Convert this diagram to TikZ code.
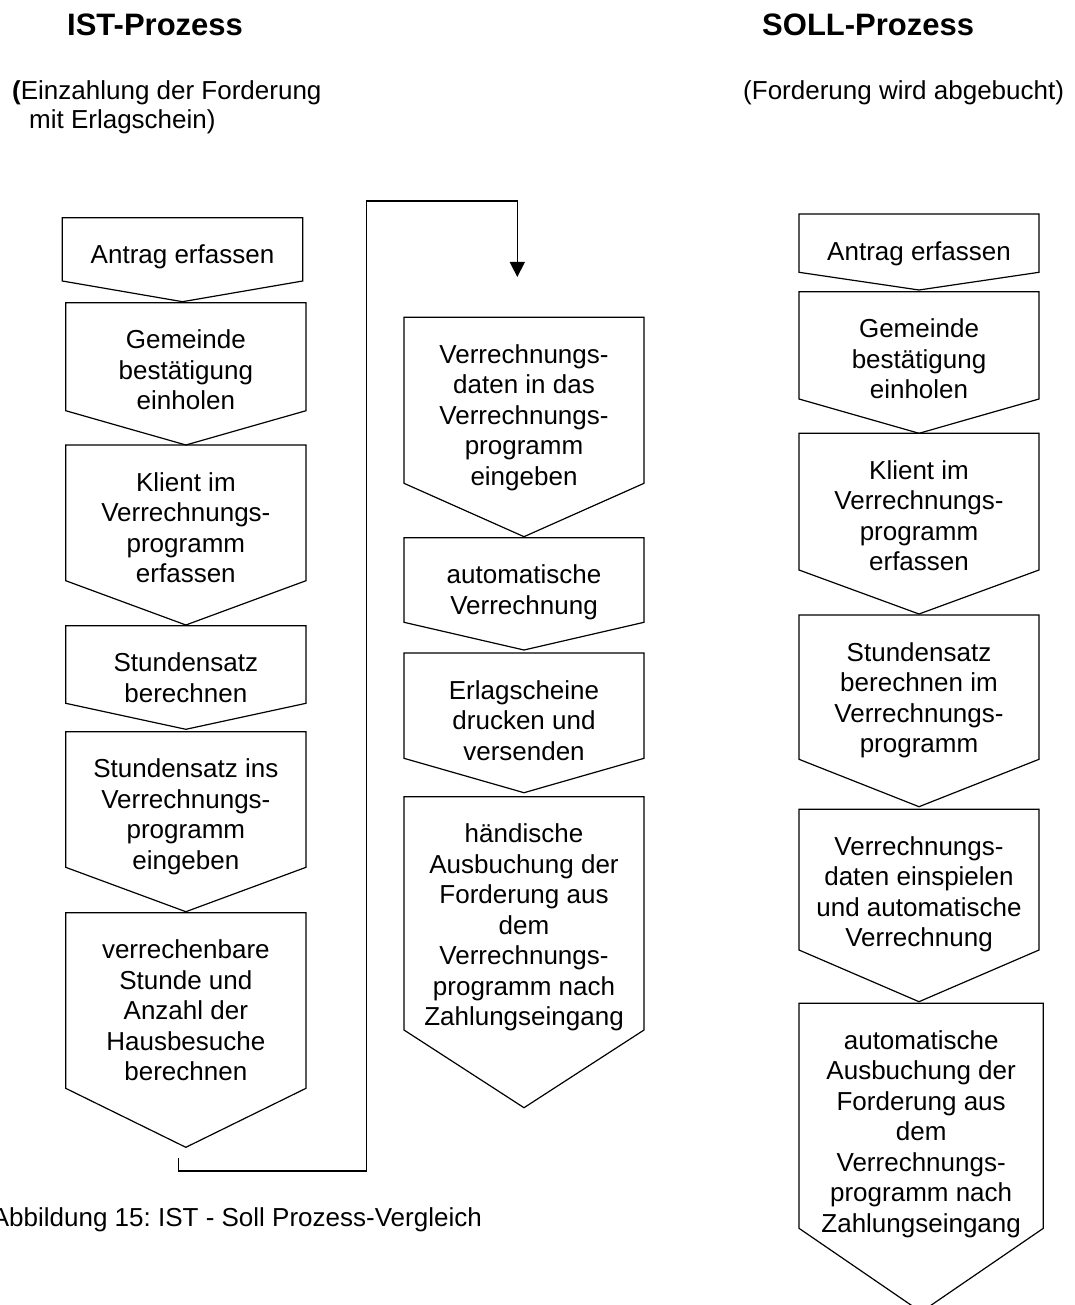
\documentclass[tikz,border=0pt]{standalone}
\usepackage{fontspec}
\setmainfont{Liberation Sans}
\usetikzlibrary{arrows.meta}
\frenchspacing

\tikzset{
  kante/.style={draw=black,line width=1.2pt,line join=miter},
  schritttext/.style={font=\fontsize{26}{30.5}\selectfont,align=center,inner sep=0pt,anchor=north},
  titel/.style={font=\fontsize{31}{36}\selectfont\bfseries,anchor=base west,inner sep=0pt},
  untertitel/.style={font=\fontsize{26}{30.5}\selectfont,anchor=base west,inner sep=0pt},
  rueckpfeil/.style={line width=1.2pt,-{Triangle[length=15pt,width=15pt]}}
}

\newcommand{\prozessschritt}[7]{%
  \draw[kante] (#2,#4) -- (#3,#4) -- (#3,#5) -- ({(#2+#3)/2},#6) -- (#2,#5) -- cycle;
  \node[schritttext] (#1) at ({(#2+#3)/2},#4+27) {#7};
}

\begin{document}
\begin{tikzpicture}[x=1pt,y=-1pt]
        \useasboundingbox (0,0) rectangle (1074,1305);

        \node[titel] (istTitel) at (67,36) {IST-Prozess};
        \node[untertitel] (istSub1) at (12,100) {\textbf{(}Einzahlung der Forderung};
        \node[untertitel] (istSub2) at (29,129) {mit Erlagschein)};
        \node[titel] (sollTitel) at (762,36) {SOLL-Prozess};
        \node[untertitel] (sollSub) at (743,100) {(Forderung wird abgebucht)};

        \prozessschritt{ist1}{62.3}{302.7}{217.7}{281}{301.7}{Antrag erfassen}
        \prozessschritt{ist2}{65.7}{306}{302.7}{410.7}{445}{Gemeinde\\bestätigung\\einholen}
        \prozessschritt{ist3}{65.7}{306}{445}{580.7}{625}{Klient im\\Verrechnungs-\\programm\\erfassen}
        \prozessschritt{ist4}{65.7}{306}{625.7}{703.3}{729.3}{Stundensatz\\berechnen}
        \prozessschritt{ist5}{65.7}{306}{731.7}{867.3}{911.7}{Stundensatz ins\\Verrechnungs-\\programm\\eingeben}
        \prozessschritt{ist6}{65.7}{306}{912.7}{1088.3}{1147.3}{verrechenbare\\Stunde und\\Anzahl der\\Hausbesuche\\berechnen}

        \prozessschritt{ist7}{404}{644}{317.3}{483.3}{536.7}{Verrechnungs-\\daten in das\\Verrechnungs-\\programm\\eingeben}
        \prozessschritt{ist8}{404}{644}{537.7}{622.3}{650}{automatische\\Verrechnung}
        \prozessschritt{ist9}{404}{644}{653}{758.3}{792.7}{Erlagscheine\\drucken und\\versenden}
        \prozessschritt{ist10}{404}{644}{796.7}{1030}{1107.7}{händische\\Ausbuchung der\\Forderung aus\\dem\\Verrechnungs-\\programm nach\\Zahlungseingang}

        \coordinate (rueckStart) at (178.3,1158.3);
        \coordinate (knickA) at (366.7,1171);
        \coordinate (knickB) at (517.3,201);
        \coordinate (rueckEnde) at (517.3,277);
        \draw[rueckpfeil] (rueckStart) |- (knickA) |- (knickB) -- (rueckEnde);

        \prozessschritt{soll1}{799}{1039}{214}{272.3}{290}{Antrag erfassen}
        \prozessschritt{soll2}{799}{1039}{291.7}{399}{433.3}{Gemeinde\\bestätigung\\einholen}
        \prozessschritt{soll3}{799}{1039}{433.3}{570}{614}{Klient im\\Verrechnungs-\\programm\\erfassen}
        \prozessschritt{soll4}{799}{1039}{615}{759.3}{806.7}{Stundensatz\\berechnen im\\Verrechnungs-\\programm}
        \prozessschritt{soll5}{799}{1039}{809.3}{950}{1001.7}{Verrechnungs-\\daten einspielen\\und automatische\\Verrechnung}
        \prozessschritt{soll6}{799}{1043.3}{1003.3}{1228.3}{1312}{automatische\\Ausbuchung der\\Forderung aus\\dem\\Verrechnungs-\\programm nach\\Zahlungseingang}

        \node[untertitel,anchor=base east] (bildText) at (482,1226) {Abbildung 15: IST - Soll Prozess-Vergleich};
      \end{tikzpicture}
\end{document}
